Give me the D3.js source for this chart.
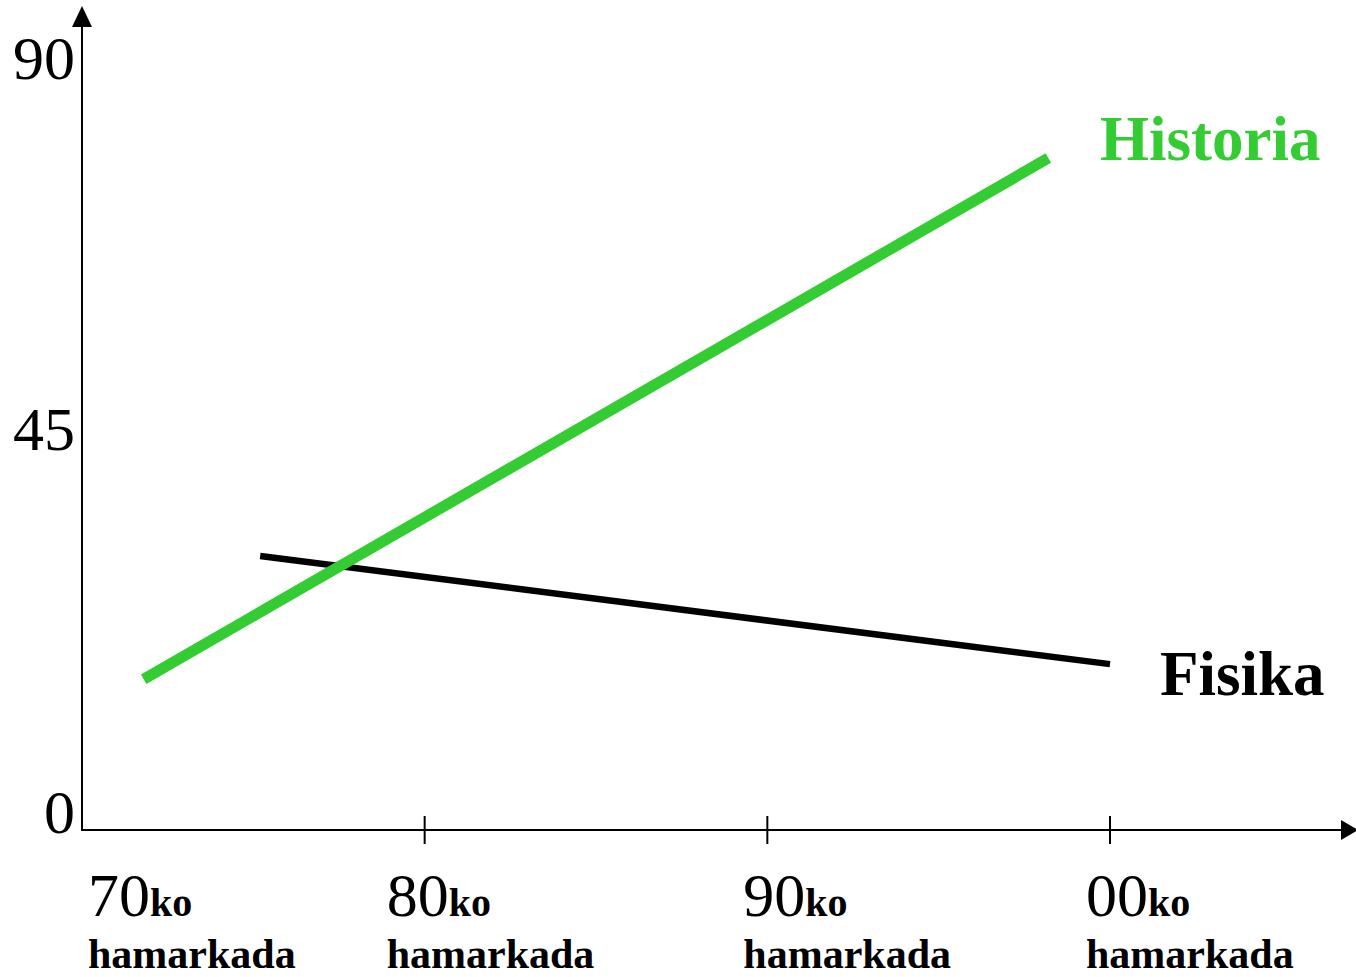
<!DOCTYPE html>
<html>
<head>
<meta charset="utf-8">
<script src="https://cdn.jsdelivr.net/npm/d3@7/dist/d3.min.js"></script>
<style>
  html, body { margin: 0; padding: 0; background: #fff; }
  svg { display: block; }
</style>
</head>
<body>
<svg id="chart" width="1356" height="977"></svg>
<script>
// ---- data ----
const decades = ["70", "80", "90", "00"];
const decadeSuffix = "ko";
const decadeWord = "hamarkada";
const yTicks = [0, 45, 90];
const seriesNames = ["Historia", "Fisika"];
// x positions expressed in decade units (0 = 70ko ... 3 = 00ko)
const historiaX = [0.18, 2.82];
const historiaY = [18.0, 80.2];
const fisikaX = [0.52, 3.0];
const fisikaY = [32.7, 19.8];

// ---- layout ----
const svg = d3.select("#chart");
const x0 = 82, yBase = 830;
const x = d3.scaleLinear().domain([0, 3]).range([x0, 1110]);
const y = d3.scaleLinear().domain([0, 90]).range([yBase, 76]);
const serif = "'Liberation Serif', 'Times New Roman', serif";
const green = "#33cc33";

// axes lines
svg.append("line").attr("x1", x0).attr("x2", x0).attr("y1", yBase).attr("y2", 24)
  .attr("stroke", "#000").attr("stroke-width", 2);
svg.append("line").attr("x1", x0 - 1).attr("x2", 1344).attr("y1", yBase).attr("y2", yBase)
  .attr("stroke", "#000").attr("stroke-width", 2);
// arrowheads
svg.append("path").attr("d", `M${x0},6 L${x0 - 10},27 L${x0 + 10},27 Z`).attr("fill", "#000");
svg.append("path").attr("d", `M1358,${yBase} L1341,${yBase - 10} L1341,${yBase + 10} Z`).attr("fill", "#000");

// x ticks (no tick at the origin)
svg.selectAll(".xtick").data(decades.slice(1)).enter().append("line")
  .attr("x1", (d, i) => x(i + 1)).attr("x2", (d, i) => x(i + 1))
  .attr("y1", yBase - 14).attr("y2", yBase + 14)
  .attr("stroke", "#000").attr("stroke-width", 2);

// y tick labels
const yLabelDy = [3, -3, 3];
svg.selectAll(".ylab").data(yTicks).enter().append("text")
  .attr("x", 75).attr("y", (d, i) => y(d) + yLabelDy[i])
  .attr("text-anchor", "end")
  .attr("font-family", serif).attr("font-size", 62)
  .text(d => d);

// x labels
const labelDx = [6, -38, -24, -24];
const xl = svg.selectAll(".xlab").data(decades).enter().append("g");
xl.append("text")
  .attr("x", (d, i) => x(i) + labelDx[i]).attr("y", 916)
  .attr("font-family", serif)
  .call(t => {
    t.append("tspan").attr("font-size", 62).text(d => d);
    t.append("tspan").attr("font-size", 40).attr("font-weight", "bold").text(decadeSuffix);
  });
xl.append("text")
  .attr("x", (d, i) => x(i) + labelDx[i]).attr("y", 968)
  .attr("font-family", serif).attr("font-size", 42).attr("font-weight", "bold")
  .text(decadeWord);

// lines
const line = d3.line().x(d => x(d[0])).y(d => y(d[1]));
svg.append("path").datum(d3.zip(fisikaX, fisikaY)).attr("d", line)
  .attr("fill", "none").attr("stroke", "#000").attr("stroke-width", 6.5);
svg.append("path").datum(d3.zip(historiaX, historiaY)).attr("d", line)
  .attr("fill", "none").attr("stroke", green).attr("stroke-width", 11);

// series labels
svg.append("text").attr("x", 1100).attr("y", 160)
  .attr("font-family", serif).attr("font-size", 63).attr("font-weight", "bold")
  .attr("fill", green).text(seriesNames[0]);
svg.append("text").attr("x", 1160).attr("y", 695)
  .attr("font-family", serif).attr("font-size", 63).attr("font-weight", "bold")
  .attr("fill", "#000").text(seriesNames[1]);
</script>
</body>
</html>
